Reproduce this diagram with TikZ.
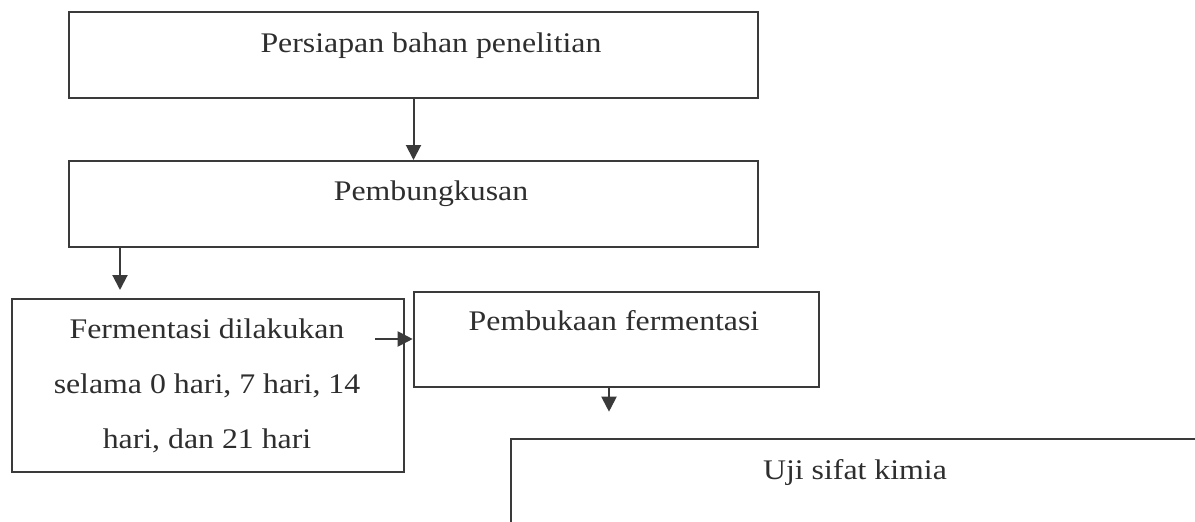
\documentclass[tikz,border=0pt]{standalone}
\usepackage{fontspec}
\setmainfont{Liberation Serif}[FakeStretch=1.12]
\usetikzlibrary{arrows.meta,calc}
\definecolor{ink}{HTML}{3A3A3A}
\definecolor{txtc}{HTML}{2E2E2E}
\tikzset{
  boxst/.style={draw=ink, line width=2pt, rectangle, inner sep=0pt, anchor=north west},
  txt/.style={text=txtc, inner sep=0pt, anchor=base, font=\fontsize{28.4}{55}\selectfont},
  arr/.style={draw=ink, line width=2pt, -{Triangle[width=15pt,length=15pt]}},
}
\begin{document}
\begin{tikzpicture}[x=1pt,y=-1pt]
\useasboundingbox (0,0) rectangle (1195,522);
\clip (0,0) rectangle (1195,522);
\fill[white] (0,0) rectangle (1195,522);
% boxes
\node[boxst, minimum width=689pt, minimum height=86pt] (b1) at (68,11) {};
\node[boxst, minimum width=689pt, minimum height=86pt] (b2) at (68,160) {};
\node[boxst, minimum width=392pt, minimum height=173.5pt] (b3) at (11,297.5) {};
\node[boxst, minimum width=405.3pt, minimum height=95pt] (b4) at (412.7,290.7) {};
\node[boxst, minimum width=690pt, minimum height=120pt] (b5) at (510,437.7) {};
% texts
\node[txt] (t1) at (431,52) {Persiapan bahan penelitian};
\node[txt] (t2) at (431,200) {Pembungkusan};
\node[txt] (t3a) at (207,338) {Fermentasi dilakukan};
\node[txt] (t3b) at (207,393) {selama 0 hari, 7 hari, 14};
\node[txt] (t3c) at (207,448) {hari, dan 21 hari};
\node[txt] (t4) at (614,330) {Pembukaan fermentasi};
\node[txt] (t5) at (855,479) {Uji sifat kimia};
% connectors
\draw[arr] (b1.south) -- (b2.north);
\coordinate (a2s) at ($(b2.south west)+(52,0)$);
\coordinate (a2e) at (120,290);
\draw[arr] (a2s) -- (a2e);
\coordinate (a3s) at (375,339);
\draw[arr] (a3s) -- (a3s -| b4.west);
\coordinate (a4s) at ($(b4.south west)+(196.3,0)$);
\coordinate (a4e) at (609,411.7);
\draw[arr] (a4s) -- (a4e);
\end{tikzpicture}
\end{document}
